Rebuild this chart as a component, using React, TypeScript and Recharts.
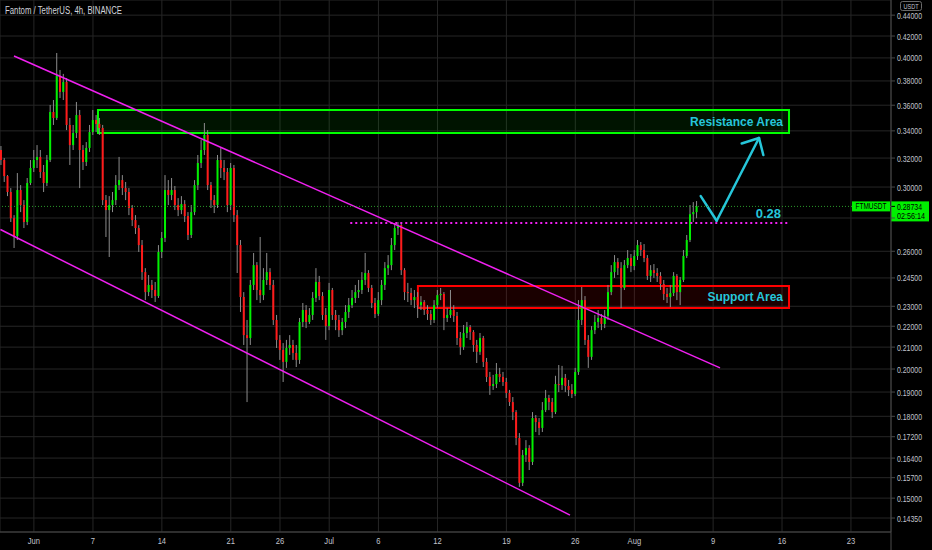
import React from 'react';
import { ComposedChart, Bar, XAxis, YAxis, CartesianGrid, ReferenceArea, ReferenceLine } from 'recharts';

// 8h candles, FTM/USDT (open of each candle = previous close)
const firstOpen = 0.3258;
const closes = [
  0.3186, 0.3074, 0.2967, 0.2799, 0.2690, 0.2980, 0.2882, 0.2775, 0.3027, 0.3130,
  0.3186, 0.3208, 0.3102, 0.3027, 0.3186, 0.3546, 0.3499, 0.3843, 0.3708, 0.3791,
  0.3445, 0.3294, 0.3384, 0.3522, 0.3258, 0.3172, 0.3273, 0.3391, 0.3483, 0.3453,
  0.3422, 0.2914, 0.2850, 0.2882, 0.2914, 0.3013, 0.3047, 0.2993, 0.2967, 0.2863,
  0.2787, 0.2738, 0.2636, 0.2482, 0.2374, 0.2412, 0.2385, 0.2353, 0.2596, 0.2678,
  0.2980, 0.2947, 0.2980, 0.2882, 0.2850, 0.2888, 0.2812, 0.2696, 0.2837, 0.3013,
  0.3165, 0.3258, 0.3369, 0.3013, 0.2914, 0.2882, 0.3186, 0.3130, 0.3102, 0.2882,
  0.3130, 0.2818, 0.2636, 0.2348, 0.2157, 0.2143, 0.2412, 0.2521, 0.2385, 0.2358,
  0.2439, 0.2482, 0.2412, 0.2231, 0.2134, 0.2087, 0.2032, 0.2096, 0.2110, 0.2073,
  0.2041, 0.2221, 0.2281, 0.2221, 0.2256, 0.2343, 0.2428, 0.2353, 0.2256, 0.2201,
  0.2385, 0.2256, 0.2231, 0.2181, 0.2221, 0.2271, 0.2306, 0.2343, 0.2374, 0.2385,
  0.2439, 0.2477, 0.2396, 0.2317, 0.2261, 0.2332, 0.2412, 0.2504, 0.2521, 0.2636,
  0.2738, 0.2756, 0.2493, 0.2374, 0.2369, 0.2332, 0.2348, 0.2306, 0.2322, 0.2281,
  0.2261, 0.2231, 0.2306, 0.2358, 0.2364, 0.2241, 0.2256, 0.2281, 0.2251, 0.2143,
  0.2101, 0.2167, 0.2196, 0.2172, 0.2110, 0.2078, 0.2143, 0.2032, 0.1965, 0.1926,
  0.1934, 0.1978, 0.1965, 0.1943, 0.1896, 0.1858, 0.1817, 0.1715, 0.1552, 0.1651,
  0.1677, 0.1626, 0.1793, 0.1777, 0.1754, 0.1825, 0.1875, 0.1858, 0.1817, 0.1934,
  0.1930, 0.1961, 0.1926, 0.1909, 0.1892, 0.1987, 0.2231, 0.2332, 0.2134, 0.2055,
  0.2181, 0.2221, 0.2241, 0.2211, 0.2251, 0.2374, 0.2482, 0.2538, 0.2504, 0.2396,
  0.2521, 0.2561, 0.2516, 0.2573, 0.2636, 0.2607, 0.2561, 0.2461, 0.2493, 0.2477,
  0.2461, 0.2417, 0.2364, 0.2348, 0.2369, 0.2461, 0.2374, 0.2439, 0.2573, 0.2666,
  0.2824, 0.2837, 0.28734,
];
const highs = [
  0.3287, 0.3200, 0.3081, 0.2993, 0.2818, 0.3095, 0.3013, 0.2914, 0.3061, 0.3186,
  0.3258, 0.3294, 0.3258, 0.3151, 0.3222, 0.3602, 0.3642, 0.4044, 0.3894, 0.3860,
  0.3825, 0.3499, 0.3445, 0.3626, 0.3562, 0.3294, 0.3316, 0.3445, 0.3562, 0.3522,
  0.3499, 0.3445, 0.2947, 0.2940, 0.2967, 0.3081, 0.3208, 0.3081, 0.3034, 0.2993,
  0.2882, 0.2818, 0.2756, 0.2666, 0.2504, 0.2466, 0.2439, 0.2428, 0.2636, 0.2714,
  0.3081, 0.3047, 0.3061, 0.3007, 0.2927, 0.2940, 0.2914, 0.2837, 0.2882, 0.3047,
  0.3222, 0.3331, 0.3460, 0.3406, 0.3034, 0.2947, 0.3222, 0.3273, 0.3186, 0.3130,
  0.3165, 0.3151, 0.2850, 0.2666, 0.2374, 0.2231, 0.2439, 0.2590, 0.2538, 0.2684,
  0.2504, 0.2590, 0.2504, 0.2439, 0.2256, 0.2157, 0.2119, 0.2134, 0.2157, 0.2134,
  0.2110, 0.2241, 0.2317, 0.2306, 0.2291, 0.2374, 0.2504, 0.2461, 0.2374, 0.2291,
  0.2423, 0.2396, 0.2281, 0.2256, 0.2241, 0.2306, 0.2343, 0.2385, 0.2412, 0.2439,
  0.2482, 0.2590, 0.2493, 0.2412, 0.2343, 0.2374, 0.2439, 0.2538, 0.2578, 0.2678,
  0.2769, 0.2775, 0.2763, 0.2504, 0.2423, 0.2396, 0.2385, 0.2374, 0.2353, 0.2332,
  0.2306, 0.2281, 0.2332, 0.2385, 0.2396, 0.2374, 0.2291, 0.2385, 0.2306, 0.2271,
  0.2172, 0.2206, 0.2221, 0.2206, 0.2181, 0.2134, 0.2167, 0.2153, 0.2050, 0.1987,
  0.1974, 0.2027, 0.2005, 0.1987, 0.1961, 0.1909, 0.1879, 0.1825, 0.1734, 0.1670,
  0.1707, 0.1688, 0.1817, 0.1805, 0.1793, 0.1858, 0.1909, 0.1888, 0.1875, 0.1970,
  0.2018, 0.2014, 0.1978, 0.1952, 0.1934, 0.2005, 0.2332, 0.2401, 0.2353, 0.2157,
  0.2201, 0.2256, 0.2281, 0.2261, 0.2281, 0.2412, 0.2521, 0.2578, 0.2561, 0.2538,
  0.2550, 0.2607, 0.2584, 0.2607, 0.2666, 0.2654, 0.2642, 0.2578, 0.2521, 0.2527,
  0.2504, 0.2482, 0.2439, 0.2396, 0.2412, 0.2482, 0.2471, 0.2455, 0.2607, 0.2696,
  0.2882, 0.2901, 0.2908,
];
const lows = [
  0.3151, 0.3034, 0.2940, 0.2775, 0.2619, 0.2666, 0.2837, 0.2738, 0.2756, 0.3013,
  0.3102, 0.3130, 0.3061, 0.2967, 0.3007, 0.3172, 0.3445, 0.3483, 0.3658, 0.3642,
  0.3406, 0.3151, 0.3258, 0.3346, 0.2993, 0.3116, 0.3144, 0.3244, 0.3369, 0.3391,
  0.3369, 0.2882, 0.2684, 0.2567, 0.2837, 0.2882, 0.2980, 0.2947, 0.2914, 0.2818,
  0.2750, 0.2702, 0.2596, 0.2439, 0.2332, 0.2353, 0.2343, 0.2322, 0.2343, 0.2561,
  0.2654, 0.2882, 0.2914, 0.2850, 0.2812, 0.2824, 0.2775, 0.2666, 0.2678, 0.2818,
  0.2980, 0.3130, 0.3222, 0.2980, 0.2863, 0.2831, 0.2863, 0.3061, 0.3047, 0.2837,
  0.2850, 0.2775, 0.2477, 0.2271, 0.2110, 0.1858, 0.2110, 0.2385, 0.2332, 0.2317,
  0.2332, 0.2412, 0.2385, 0.2206, 0.2096, 0.2041, 0.1943, 0.2005, 0.2064, 0.2041,
  0.2009, 0.2023, 0.2196, 0.2191, 0.2211, 0.2231, 0.2322, 0.2332, 0.2231, 0.2134,
  0.2181, 0.2231, 0.2181, 0.2148, 0.2157, 0.2191, 0.2241, 0.2291, 0.2317, 0.2343,
  0.2364, 0.2412, 0.2374, 0.2291, 0.2241, 0.2251, 0.2306, 0.2385, 0.2466, 0.2493,
  0.2607, 0.2696, 0.2466, 0.2332, 0.2322, 0.2306, 0.2291, 0.2241, 0.2281, 0.2256,
  0.2231, 0.2206, 0.2216, 0.2291, 0.2332, 0.2181, 0.2221, 0.2241, 0.2221, 0.2110,
  0.2064, 0.2087, 0.2143, 0.2134, 0.2078, 0.2027, 0.2064, 0.2009, 0.1943, 0.1888,
  0.1909, 0.1917, 0.1943, 0.1926, 0.1875, 0.1842, 0.1785, 0.1688, 0.1538, 0.1541,
  0.1626, 0.1597, 0.1615, 0.1738, 0.1726, 0.1738, 0.1817, 0.1825, 0.1793, 0.1809,
  0.1900, 0.1909, 0.1900, 0.1883, 0.1875, 0.1883, 0.1974, 0.2206, 0.2110, 0.2005,
  0.2041, 0.2162, 0.2191, 0.2181, 0.2191, 0.2231, 0.2358, 0.2450, 0.2466, 0.2291,
  0.2385, 0.2504, 0.2482, 0.2493, 0.2550, 0.2573, 0.2538, 0.2439, 0.2428, 0.2450,
  0.2428, 0.2385, 0.2332, 0.2317, 0.2296, 0.2353, 0.2332, 0.2306, 0.2428, 0.2561,
  0.2654, 0.2775, 0.2799,
];
// time axis in days relative to 1 Jun
const candleStartDay = -10 / 3;
const candleStepDay = 1 / 3;

const xTickDays = [0, 6, 13, 20, 25, 30, 35, 41, 48, 55, 61, 69, 76, 83];
const xTickLabels = ['Jun', '7', '14', '21', '26', 'Jul', '6', '12', '19', '26', 'Aug', '9', '16', '23'];
const yTicks = [0.44, 0.42, 0.4, 0.38, 0.36, 0.34, 0.32, 0.3, 0.28, 0.26, 0.245, 0.23, 0.22, 0.21, 0.2, 0.19, 0.18, 0.172, 0.164, 0.157, 0.15, 0.1435];
const hiddenYTickLabels = [0.28];
const xDomain = [-3.444, 87.07];
const yDomain = [0.1391, 0.4551];

const resistanceZone = { x1: 6.51, x2: 76.71, y1: 0.3384, y2: 0.3561 };
const supportZone = { x1: 39.01, x2: 76.71, y1: 0.2291, y2: 0.2406 };
const upperChannel = [{ x: -2.02, y: 0.4017 }, { x: 69.7, y: 0.2005 }];
const lowerChannel = [{ x: -3.4, y: 0.2729 }, { x: 54.46, y: 0.14445 }];
const levelLine = [{ x: 32.14, y: 0.2769 }, { x: 76.71, y: 0.2769 }];
const projectionPath = [{ x: 67.74, y: 0.294 }, { x: 69.36, y: 0.2783 }, { x: 73.66, y: 0.3346 }];
const arrowHead = [{ x: 71.9, y: 0.3306 }, { x: 73.66, y: 0.3346 }, { x: 74.1, y: 0.3222 }];

const data = closes.map((c, i) => ({
  t: candleStartDay + i * candleStepDay,
  open: i === 0 ? firstOpen : closes[i - 1],
  close: c,
  high: highs[i],
  low: lows[i],
  range: [lows[i], highs[i]],
}));
const lastClose = closes[closes.length - 1];

const GREEN = '#00f000';
const RED = '#ff1a1a';
const CYAN = '#26c6da';
const MAGENTA = '#f020f0';
const LABEL = '#c2c4cc';

const Candle = (props: any) => {
  const { x, y, width, height, payload } = props;
  if (x == null || y == null || !payload) return <g />;
  const top = Math.min(y, y + height);
  const bot = Math.max(y, y + height);
  const lh = Math.log(payload.high);
  const ll = Math.log(payload.low);
  const span = lh - ll || 1e-9;
  const py = (p: number) => top + ((lh - Math.log(p)) / span) * (bot - top);
  const yo = py(payload.open);
  const yc = py(payload.close);
  const up = payload.close >= payload.open;
  const bt = Math.min(yo, yc);
  const bh = Math.max(1, Math.abs(yc - yo));
  const cx = x + width / 2;
  return (
    <g>
      <line x1={cx} x2={cx} y1={top} y2={bot} stroke="#8c8c8c" strokeWidth={1} />
      <rect x={cx - 1} y={bt} width={2} height={bh} fill={up ? GREEN : RED} />
    </g>
  );
};

const YTick = (props: any) => {
  const { x, y, payload } = props;
  if (hiddenYTickLabels.some((v) => Math.abs(v - payload.value) < 1e-9)) return <g />;
  return (
    <text x={x} y={y} dy={3.5} fontSize={9} fill={LABEL} textLength={25} lengthAdjust="spacingAndGlyphs">
      {Number(payload.value).toFixed(5)}
    </text>
  );
};

const XTick = (props: any) => {
  const { x, y, payload } = props;
  const i = xTickDays.indexOf(payload.value);
  return (
    <g transform={`translate(${x},${y})`}>
      <text y={12} textAnchor="middle" fontSize={9.5} fill={LABEL} transform="scale(0.8,1)">
        {i >= 0 ? xTickLabels[i] : ''}
      </text>
    </g>
  );
};

const PriceTag = (props: any) => {
  const vb = props.viewBox || {};
  const right = vb.x + vb.width;
  const y = vb.y;
  return (
    <g>
      <rect x={right - 39} y={y - 5} width={38} height={10} fill={GREEN} />
      <text x={right - 20} y={y + 3} textAnchor="middle" fontSize={8.5} fill="#000" textLength={31} lengthAdjust="spacingAndGlyphs">FTMUSDT</text>
      <rect x={right} y={y - 5} width={38} height={20} fill={GREEN} />
      <line x1={right} x2={right + 4} y1={y} y2={y} stroke="#000" />
      <text x={right + 6} y={y + 3.5} fontSize={8.5} fill="#000" textLength={25} lengthAdjust="spacingAndGlyphs">{lastClose.toFixed(5)}</text>
      <text x={right + 6} y={y + 13} fontSize={8.5} fill="#000" textLength={28} lengthAdjust="spacingAndGlyphs">02:56:14</text>
    </g>
  );
};

const LevelTag = (props: any) => {
  const vb = props.viewBox || {};
  return (
    <text x={vb.x + vb.width - 8} y={vb.y - 5} textAnchor="end" fontSize={13} fontWeight={700} fill={CYAN}>
      0.28
    </text>
  );
};

const segs = (pts: { x: number; y: number }[]) =>
  pts.slice(1).map((p, i) => [pts[i], p] as any);

export default function App() {
  return (
    <div
      style={{
        position: 'fixed',
        left: 0,
        top: 0,
        width: 932,
        height: 550,
        background: '#000',
        fontFamily: '"Liberation Sans", Arial, sans-serif',
      }}
    >
      <ComposedChart width={932} height={550} data={data} margin={{ top: 0, right: 0, bottom: 0, left: 0 }}>
        <CartesianGrid stroke="#262626" />
        <XAxis
          dataKey="t"
          type="number"
          domain={xDomain}
          allowDataOverflow
          ticks={xTickDays}
          tick={<XTick />}
          tickLine={false}
          tickSize={0}
          tickMargin={0}
          height={18}
          axisLine={{ stroke: '#4a4a4a' }}
          interval={0}
        />
        <YAxis
          orientation="right"
          scale="log"
          type="number"
          domain={yDomain}
          allowDataOverflow
          ticks={yTicks}
          tick={<YTick />}
          tickSize={4}
          tickMargin={2}
          tickLine={{ stroke: '#4a4a4a' }}
          axisLine={{ stroke: '#4a4a4a' }}
          width={41}
          interval={0}
        />
        <ReferenceArea
          x1={resistanceZone.x1}
          x2={resistanceZone.x2}
          y1={resistanceZone.y1}
          y2={resistanceZone.y2}
          fill="#00ff00"
          fillOpacity={0.08}
          stroke="#00ff00"
          strokeWidth={2}
          ifOverflow="visible"
          label={{ value: 'Resistance Area', position: 'insideRight', offset: 6, fill: CYAN, fontSize: 12, fontWeight: 700 }}
        />
        <ReferenceArea
          x1={supportZone.x1}
          x2={supportZone.x2}
          y1={supportZone.y1}
          y2={supportZone.y2}
          fill="#ff0000"
          fillOpacity={0.1}
          stroke="#ff0000"
          strokeWidth={2}
          ifOverflow="visible"
          label={{ value: 'Support Area', position: 'insideRight', offset: 6, fill: CYAN, fontSize: 12, fontWeight: 700 }}
        />
        <Bar dataKey="range" barSize={3} shape={(p: any) => <Candle {...p} />} isAnimationActive={false} />
        {segs(upperChannel).map((s, i) => (
          <ReferenceLine key={'u' + i} segment={s} stroke={MAGENTA} strokeWidth={1.5} ifOverflow="visible" />
        ))}
        {segs(lowerChannel).map((s, i) => (
          <ReferenceLine key={'l' + i} segment={s} stroke={MAGENTA} strokeWidth={1.5} ifOverflow="visible" />
        ))}
        <ReferenceLine
          segment={levelLine as any}
          stroke={MAGENTA}
          strokeWidth={2}
          strokeDasharray="2 3"
          ifOverflow="visible"
          label={(p: any) => <LevelTag {...p} />}
        />
        {segs(projectionPath).map((s, i) => (
          <ReferenceLine key={'p' + i} segment={s} stroke={CYAN} strokeWidth={2.5} strokeLinecap="round" ifOverflow="visible" />
        ))}
        {segs(arrowHead).map((s, i) => (
          <ReferenceLine key={'a' + i} segment={s} stroke={CYAN} strokeWidth={2.5} strokeLinecap="round" ifOverflow="visible" />
        ))}
        <ReferenceLine
          y={lastClose}
          stroke="#2a9a2a"
          strokeDasharray="1 2"
          ifOverflow="visible"
          label={(p: any) => <PriceTag {...p} />}
        />
      </ComposedChart>
      <svg width={932} height={550} style={{ position: 'absolute', left: 0, top: 0, pointerEvents: 'none' }}>
        <text x={5} y={14} fontSize={10} fill="#d1d4dc" textLength={117} lengthAdjust="spacingAndGlyphs">
          Fantom / TetherUS, 4h, BINANCE
        </text>
        <rect x={900.5} y={1.5} width={21} height={9} rx={2} fill="#000" stroke="#6a6a6a" />
        <text x={911} y={8.8} textAnchor="middle" fontSize={7.5} fill={LABEL} textLength={15} lengthAdjust="spacingAndGlyphs">
          USDT
        </text>
        <line x1={891} x2={891} y1={532} y2={550} stroke="#4a4a4a" />
      </svg>
    </div>
  );
}
